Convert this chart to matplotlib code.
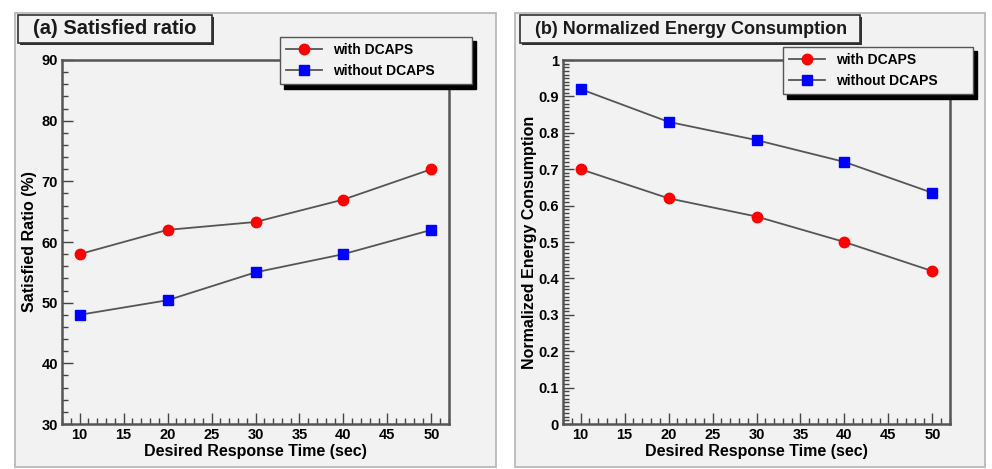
import matplotlib
matplotlib.use('Agg')
import matplotlib.pyplot as plt
from matplotlib.patches import Rectangle
from matplotlib.ticker import MultipleLocator
import numpy as np

plt.rcParams['font.family'] = ['Liberation Sans', 'DejaVu Sans']
plt.rcParams['font.weight'] = 'bold'

# data
response_time = [10, 20, 30, 40, 50]
ratio_with = [58, 62, 63.3, 67, 72]
ratio_without = [48, 50.4, 55, 58, 62]
energy_with = [0.70, 0.62, 0.57, 0.50, 0.42]
energy_without = [0.92, 0.83, 0.78, 0.72, 0.635]
energy_ticks = ['0', '0.1', '0.2', '0.3', '0.4', '0.5', '0.6', '0.7', '0.8', '0.9', '1']
series_labels = ['with DCAPS', 'without DCAPS']

W, H = 992, 469
BG = '#f2f2f2'
fig = plt.figure(figsize=(W / 100, H / 100), dpi=100)
fig.patch.set_facecolor('white')


def px_box(x0, y0, x1, y1):
    # pixel box (top-left origin) -> figure fraction rect
    return [x0 / W, 1 - y1 / H, (x1 - x0) / W, (y1 - y0) / H]


def panel(x0, x1):
    r = px_box(x0, 13, x1, 467)
    fig.patches.append(Rectangle((r[0], r[1]), r[2], r[3], transform=fig.transFigure,
                                 facecolor=BG, edgecolor='#b4b4b4', lw=1.2, zorder=-5))


def title_box(x0, x1, text, size):
    r = px_box(x0 + 2, 17, x1 + 2, 45)
    fig.patches.append(Rectangle((r[0], r[1]), r[2], r[3], transform=fig.transFigure,
                                 facecolor='#303030', edgecolor='none', zorder=1))
    r = px_box(x0, 15, x1, 43)
    fig.patches.append(Rectangle((r[0], r[1]), r[2], r[3], transform=fig.transFigure,
                                 facecolor=BG, edgecolor='#303030', lw=1.2, zorder=2))
    fig.text((x0 + 15) / W, 1 - 29 / H, text, fontsize=size, fontweight='bold',
             va='center', ha='left', color='#1a1a1a', zorder=3)


def setup_axes(ax, ylim, major, minor, ylabel, label_x_px, ax_left_px):
    ax.set_facecolor(BG)
    ax.set_xlim(8, 52)
    ax.set_ylim(*ylim)
    ax.xaxis.set_major_locator(MultipleLocator(5))
    ax.xaxis.set_minor_locator(MultipleLocator(1))
    ax.yaxis.set_major_locator(MultipleLocator(major))
    ax.yaxis.set_minor_locator(MultipleLocator(minor))
    ax.tick_params(which='both', direction='in', top=False, right=False,
                   color='#444444', labelsize=10.5, width=1.0)
    ax.tick_params(which='major', length=8, pad=3)
    ax.tick_params(which='minor', length=4)
    for s in ax.spines.values():
        s.set_color('#555555')
        s.set_linewidth(1.8)
    ax.set_xlabel('Desired Response Time (sec)', fontsize=11.5, fontweight='bold', labelpad=1)
    ax.set_ylabel(ylabel, fontsize=11.5, fontweight='bold')
    ax.yaxis.set_label_coords((label_x_px - ax_left_px) / 387, 0.5)
    for lab in ax.get_xticklabels() + ax.get_yticklabels():
        lab.set_fontweight('bold')


def draw(ax, y1, y2, leg_px):
    ax.plot(response_time, y1, color='#555555', lw=1.3, marker='o', ms=7.5,
            mfc='red', mec='red', label=series_labels[0])
    ax.plot(response_time, y2, color='#555555', lw=1.3, marker='s', ms=7,
            mfc='blue', mec='blue', label=series_labels[1])
    x0, y0, x1, y1_ = leg_px
    r = px_box(x0, y0, x1, y1_)
    leg = ax.legend(loc='upper left', bbox_to_anchor=(r[0], r[1] + r[3], r[2], 0),
                    bbox_transform=fig.transFigure, mode='expand', borderaxespad=0,
                    fancybox=False, framealpha=1, facecolor=BG, edgecolor='#555555',
                    shadow={'color': 'black', 'alpha': 1, 'ox': 3, 'oy': -3},
                    prop={'size': 10, 'weight': 'bold'}, handlelength=2.6,
                    labelspacing=0.5, borderpad=0.45, handletextpad=0.8)
    leg.get_frame().set_linewidth(1.0)


panel(15, 496)
panel(515, 985)

ax1 = fig.add_axes(px_box(62, 60, 449, 424))
setup_axes(ax1, (30, 90), 10, 2, 'Satisfied Ratio (%)', 37, 62)
draw(ax1, ratio_with, ratio_without, (280, 37, 472, 84))

ax2 = fig.add_axes(px_box(563, 60, 950, 424))
setup_axes(ax2, (0, 1), 0.1, 0.01, 'Normalized Energy Consumption', 537, 563)
ax2.set_yticks(np.arange(0, 1.01, 0.1))
ax2.set_yticklabels(energy_ticks)
for lab in ax2.get_yticklabels():
    lab.set_fontweight('bold')
draw(ax2, energy_with, energy_without, (783, 47, 973, 92))

title_box(18, 212, '(a) Satisfied ratio', 14.5)
title_box(520, 860, '(b) Normalized Energy Consumption', 13)

fig.savefig('out.png', dpi=100)
